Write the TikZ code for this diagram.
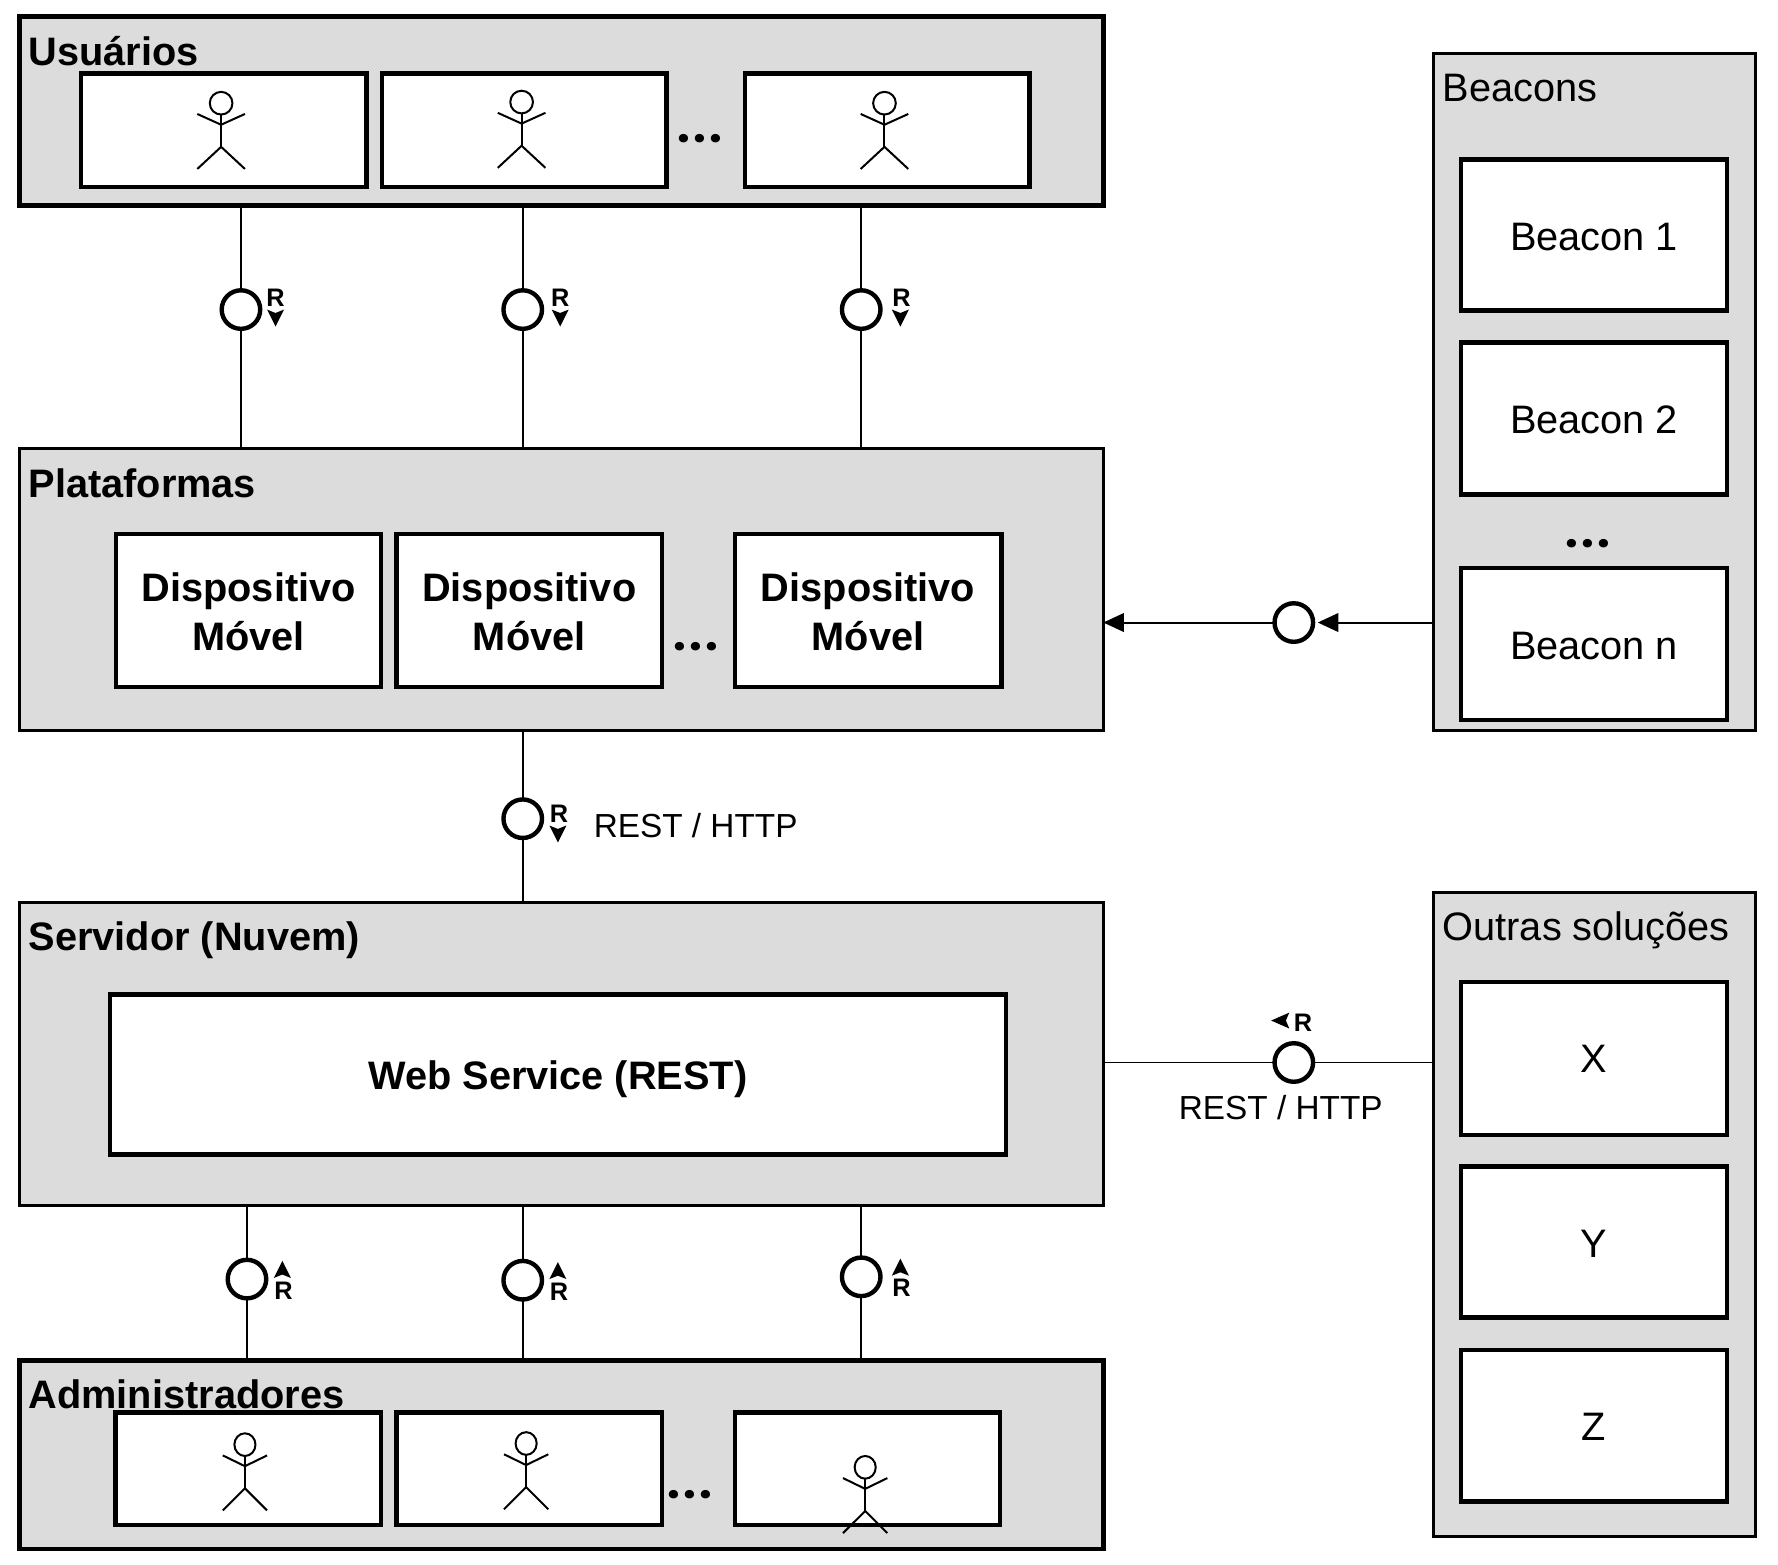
\documentclass[tikz,border=0pt]{standalone}
\usepackage{fontspec}
\setmainfont{Liberation Sans}
\newfontfamily\dotfont{Poppins}[BoldFont={Poppins Bold}]
\usetikzlibrary{arrows.meta}
\definecolor{boxgray}{HTML}{DCDCDC}
\newcommand\bx[7]{%
  \pgfmathsetmacro\bxw{(#5-#3)*0.8504}%
  \pgfmathsetmacro\bxh{(#6-#4)*0.8504}%
  \node[#2, minimum width=\bxw pt, minimum height=\bxh pt] (#1) at ({(#3+#5)/2},{(#4+#6)/2}) {#7};}
\newcommand\lift[2]{\raisebox{-#1}[0pt][0pt]{#2}}
\newcommand\threedots{.\kern2.4pt.\kern2.4pt.}
\newcommand\disp{\rule{0pt}{23.4pt}Dispositivo\\Móvel}
% R with a small arrow below / above / to the left
\newcommand\rdown[4]{%
  \node[rlabel] (#1) at (#2,#3) {R};
  \fill (#4-7.5,273+#3-263) -- (#4,276+#3-263) -- (#4+7.5,273+#3-263) -- (#4,288+#3-263) -- cycle;}
\newcommand\rup[4]{%
  \node[rlabel] (#1) at (#2,#3) {R};
  \fill (#4-7.5,#3-11) -- (#4,#3-14) -- (#4+7.5,#3-11) -- (#4,#3-26) -- cycle;}
\tikzset{
  x=0.8504pt, y=-0.8504pt,
  heavyframe/.style={draw=black, fill=boxgray, line width=3.5pt, outer sep=0pt, inner sep=0pt},
  lightframe/.style={draw=black, fill=boxgray, line width=2.3pt, outer sep=0pt, inner sep=0pt},
  whitebox/.style={draw=black, fill=white, line width=3.4pt, outer sep=0pt, inner sep=0pt, align=center, font=\fontsize{29.8}{36.1}\selectfont},
  boldbox/.style={whitebox, font=\fontsize{29.8}{36.1}\selectfont\bfseries},
  ball/.style={circle, draw=black, fill=white, line width=3.3pt, minimum size=28.9pt, inner sep=0pt, outer sep=0pt},
  wire/.style={draw=black, line width=1.3pt},
  arrowwire/.style={draw=black, line width=1.5pt, -{Triangle[length=15.5pt,width=14pt]}},
  titlebold/.style={anchor=base west, inner sep=0pt, font=\fontsize{29.8}{35.7}\selectfont\bfseries},
  titleplain/.style={anchor=base west, inner sep=0pt, font=\fontsize{29.8}{35.7}\selectfont},
  restlabel/.style={inner sep=0pt, font=\fontsize{25}{30}\selectfont},
  rlabel/.style={inner sep=0pt, font=\fontsize{19}{22}\selectfont\bfseries},
  ellipsis/.style={anchor=base, inner sep=0pt, font=\dotfont\fontsize{34}{40}\selectfont\bfseries},
  pics/actor/.style={code={
    \draw[line width=1.5pt, fill=white] (0,0) ellipse [x radius=10, y radius=10];
    \draw[line width=1.5pt, line join=round] (0,10) -- (0,39);
    \draw[line width=1.5pt] (-21,9.5) -- (0,19) -- (21,9.5);
    \draw[line width=1.5pt] (-21,58) -- (0,38.5) -- (21,58);
  }}
}
\begin{document}
\begin{tikzpicture}
\useasboundingbox (0,0) rectangle (1568,1379.3);

% Usuarios
\bx{usu}{heavyframe}{17}{14.5}{973}{181}{}
\node[titlebold] (tusu) at (25,57.5) {Usuários};
\bx{u1}{whitebox}{71.5}{65}{323}{165}{}
\bx{u2}{whitebox}{337}{65}{588}{165}{}
\bx{u3}{whitebox}{657}{65}{908}{165}{}
\pic at (195,91) {actor};
\pic at (460,90) {actor};
\pic at (780,91) {actor};
\node[ellipsis] (du) at (617,126) {\threedots};

% Plataformas
\bx{plat}{lightframe}{17}{395.5}{973}{644}{}
\node[titlebold] (tplat) at (25,438.5) {Plataformas};
\bx{p1}{boldbox}{102.5}{471}{336}{606}{\disp}
\bx{p2}{boldbox}{349.5}{471}{584}{606}{\disp}
\bx{p3}{boldbox}{648}{471}{883}{606}{\disp}
\node[ellipsis] (dp) at (613.5,573.5) {\threedots};

% Servidor
\bx{srv}{lightframe}{17}{796}{973}{1063}{}
\node[titlebold] (tsrv) at (25,838.5) {Servidor (Nuvem)};
\bx{ws}{boldbox}{97}{877}{887}{1018}{\lift{11pt}{Web Service (REST)}}

% Administradores
\bx{adm}{heavyframe}{17}{1199.5}{973}{1366}{}
\node[titlebold] (tadm) at (25,1242.5) {Administradores};
\bx{a1}{whitebox}{102}{1245.5}{336}{1345}{}
\bx{a2}{whitebox}{349.5}{1245.5}{584}{1345}{}
\bx{a3}{whitebox}{648}{1245.5}{882}{1345}{}
\pic[xscale=0.93] at (216,1274) {actor};
\pic[xscale=0.93] at (464,1273) {actor};
\pic[xscale=0.93] at (763,1294) {actor};
\node[ellipsis] (da) at (608,1321.5) {\threedots};

% Beacons
\bx{bea}{lightframe}{1264}{47}{1548}{644}{}
\node[titleplain] (tbea) at (1272,89.5) {Beacons};
\bx{b1}{whitebox}{1288.5}{140.5}{1523}{274}{\lift{11.3pt}{Beacon 1}}
\bx{b2}{whitebox}{1288.5}{302}{1523}{436}{\lift{11.3pt}{Beacon 2}}
\bx{b3}{whitebox}{1288.5}{501}{1523}{635}{\lift{11.3pt}{Beacon n}}
\node[ellipsis] (db) at (1400,483) {\threedots};

% Outras
\bx{out}{lightframe}{1264}{787}{1548}{1355}{}
\node[titleplain] (tout) at (1272,829.5) {Outras soluções};
\bx{x}{whitebox}{1288.5}{866}{1523}{1001}{\lift{10.6pt}{X}}
\bx{y}{whitebox}{1288.5}{1028.5}{1523}{1162}{\lift{11.3pt}{Y}}
\bx{z}{whitebox}{1288.5}{1190.5}{1523}{1324}{\lift{11.3pt}{Z}}

% Balls
\node[ball] (c1) at (212.5,273) {};
\node[ball] (c2) at (461,273) {};
\node[ball] (c3) at (759.5,273) {};
\node[ball] (c4) at (461,722) {};
\node[ball] (c5) at (217.8,1128) {};
\node[ball] (c6) at (461,1129) {};
\node[ball] (c7) at (759.5,1126) {};
\node[ball] (c8) at (1141,549) {};
\node[ball] (c9) at (1141,937) {};

% Connectors
\foreach \c in {c1,c2,c3}{
  \draw[wire] (\c |- usu.south) -- (\c);
  \draw[wire] (\c) -- (\c |- plat.north);
}
\draw[wire] (c4 |- plat.south) -- (c4);
\draw[wire] (c4) -- (c4 |- srv.north);
\foreach \c in {c5,c6,c7}{
  \draw[wire] (\c |- srv.south) -- (\c);
  \draw[wire] (\c) -- (\c |- adm.north);
}
\draw[arrowwire] (c8) -- (c8 -| plat.east);
\draw[arrowwire, shorten >=3.5pt] (c8 -| bea.west) -- (c8);
\draw[wire] (c9 -| srv.east) -- (c9);
\draw[wire] (c9) -- (c9 -| out.west);

% R marks
\rdown{r1}{243}{263}{243}
\rdown{r2}{494}{263}{494}
\rdown{r3}{795}{263}{794}
\rdown{r4}{493}{718}{492}
\rup{r5}{250}{1138}{249}
\rup{r6}{493}{1139}{492}
\rup{r7}{795}{1136}{794}
\node[rlabel] (r8) at (1149,902) {R};
\fill (1137,893) -- (1134,900) -- (1137,907) -- (1121,900) -- cycle;

% Labels
\node[restlabel] (l1) at (613.5,728) {REST / HTTP};
\node[restlabel] (l2) at (1129.5,977) {REST / HTTP};
\end{tikzpicture}
\end{document}
